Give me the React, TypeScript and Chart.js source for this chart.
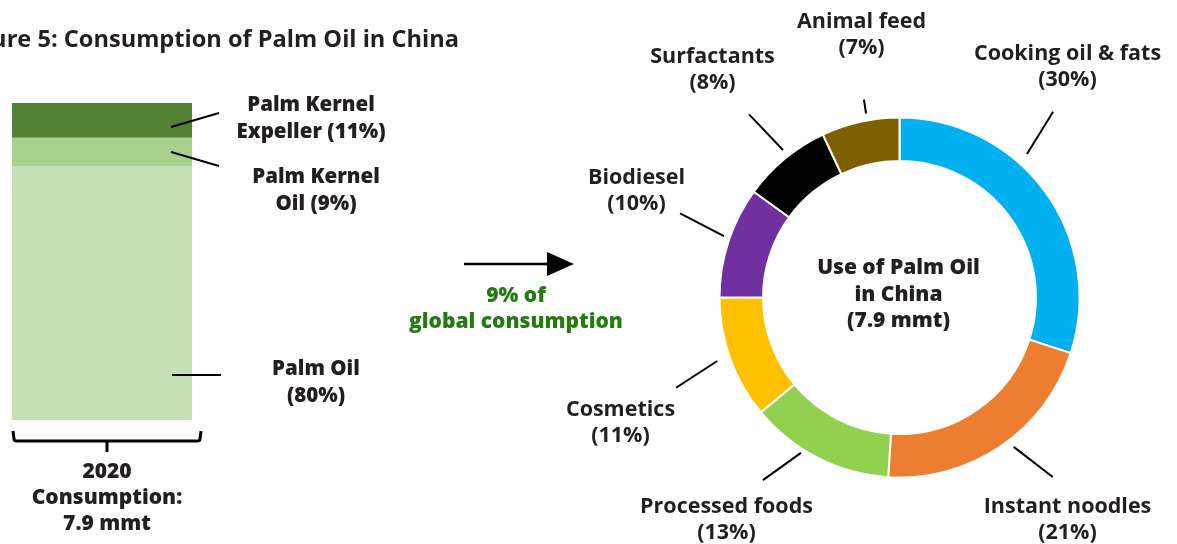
import React, { useEffect, useRef } from "react";
import { Chart, registerables } from "chart.js";
Chart.register(...registerables);

// ---- data ----
const barCategories = ["2020"];
const barSeriesNames = ["Palm Oil", "Palm Kernel Oil", "Palm Kernel Expeller"];
const barSeriesValues = [80, 9, 11];
const barLabelTexts = [["Palm Oil", "(80%)"], ["Palm Kernel", "Oil (9%)"], ["Palm Kernel", "Expeller (11%)"]];

const useCategories = ["Cooking oil & fats", "Instant noodles", "Processed foods", "Cosmetics", "Biodiesel", "Surfactants", "Animal feed"];
const useValues = [30, 21, 13, 11, 10, 8, 7];

const titleText = "Figure 5: Consumption of Palm Oil in China";
const totalText = ["2020", "Consumption:", "7.9 mmt"];
const shareText = ["9% of", "global consumption"];
const centerText = ["Use of Palm Oil", "in China", "(7.9 mmt)"];

// ---- styles ----
const barColors = ["#C5E0B4", "#A9D18E", "#548235"];
const useColors = ["#00B0F0", "#ED7D31", "#92D050", "#FFC000", "#7030A0", "#000000", "#7F6000"];
const TEXT = "#231F20";
const GREEN = "#267A12";
const HEAVY = "800 20.5px 'Open Sans'";
const BOLD = "700 21.5px 'Open Sans'";

// layout for annotations (canvas A local = page coords)
const barLabelPos = [
  { x: 316, y: 369, line: [172, 375, 221, 375] },
  { x: 316, y: 177, line: [171, 152, 219, 166] },
  { x: 311, y: 105, line: [171, 127, 219, 113] },
];
// doughnut label layout: offsets from centre, leader angle (deg from top, clockwise) and radii
const useLabelPos = [
  { dx: 168, dy: -244, a1: 41.6, a2: 39.6, r1: 192, r2: 241 },
  { dx: 168, dy: 209, a1: 142.6, a2: 139.5, r1: 188, r2: 236 },
  { dx: -173, dy: 209, a1: 212.4, a2: 216.8, r1: 184, r2: 228 },
  { dx: -279, dy: 112, a1: 250.8, a2: 248, r1: 193, r2: 241 },
  { dx: -263, dy: -120, a1: 289.3, a2: 291, r1: 186, r2: 235 },
  { dx: -187, dy: -241, a1: 321.7, a2: 320.6, r1: 188, r2: 237 },
  { dx: -38, dy: -276, a1: 349.7, a2: 349.8, r1: 187, r2: 201 },
];

function drawLines(ctx: CanvasRenderingContext2D, lines: string[], x: number, y: number, lh: number, font: string, color: string, align: CanvasTextAlign = "center") {
  ctx.save();
  ctx.font = font;
  ctx.fillStyle = color;
  ctx.textAlign = align;
  ctx.textBaseline = "middle";
  lines.forEach((l, i) => ctx.fillText(l, x, y + i * lh));
  ctx.restore();
}
function seg(ctx: CanvasRenderingContext2D, x1: number, y1: number, x2: number, y2: number, w = 2) {
  ctx.save();
  ctx.strokeStyle = "#000";
  ctx.lineWidth = w;
  ctx.beginPath();
  ctx.moveTo(x1, y1);
  ctx.lineTo(x2, y2);
  ctx.stroke();
  ctx.restore();
}

export default function App() {
  const aRef = useRef<HTMLCanvasElement>(null);
  const bRef = useRef<HTMLCanvasElement>(null);

  useEffect(() => {
    const barPlugin = {
      id: "barAnnot",
      afterDraw(chart: any) {
        const ctx = chart.ctx as CanvasRenderingContext2D;
        drawLines(ctx, [titleText], 459, 40, 0, "700 23.6px 'Open Sans'", TEXT, "right");
        barLabelTexts.forEach((t, i) => {
          const p = barLabelPos[i];
          drawLines(ctx, t, p.x, p.y, 27, HEAVY, TEXT);
          seg(ctx, p.line[0], p.line[1], p.line[2], p.line[3]);
        });
        const el = chart.getDatasetMeta(0).data[0];
        const left = el.x - el.width / 2;
        const right = el.x + el.width / 2;
        const by = chart.chartArea.bottom;
        // bracket
        ctx.save();
        ctx.strokeStyle = "#000";
        ctx.lineWidth = 3;
        ctx.lineJoin = "round";
        ctx.beginPath();
        ctx.moveTo(left + 1, by + 11);
        ctx.lineTo(left + 2, by + 19);
        ctx.quadraticCurveTo(left + 2, by + 21, left + 5, by + 21);
        ctx.lineTo(right + 5, by + 21);
        ctx.quadraticCurveTo(right + 8, by + 21, right + 8, by + 19);
        ctx.lineTo(right + 9, by + 11);
        ctx.stroke();
        ctx.beginPath();
        ctx.moveTo((left + right + 10) / 2, by + 21);
        ctx.lineTo((left + right + 10) / 2, by + 32);
        ctx.stroke();
        ctx.restore();
        drawLines(ctx, totalText, 107, 472, 26, "800 21px 'Open Sans'", TEXT);
        // arrow
        seg(ctx, 464, 264, 550, 264, 2.5);
        ctx.save();
        ctx.fillStyle = "#000";
        ctx.beginPath();
        ctx.moveTo(547, 252);
        ctx.lineTo(574, 264);
        ctx.lineTo(547, 276);
        ctx.closePath();
        ctx.fill();
        ctx.restore();
        drawLines(ctx, shareText, 516, 296, 26, "800 21px 'Open Sans'", GREEN);
      },
    };
    const a = new Chart(aRef.current!, {
      type: "bar",
      data: {
        labels: barCategories,
        datasets: barSeriesNames.map((n, i) => ({
          label: n,
          data: [barSeriesValues[i]],
          backgroundColor: barColors[i],
          borderWidth: 0,
          barPercentage: 1,
          categoryPercentage: 1,
        })),
      },
      options: {
        responsive: false,
        animation: false,
        layout: { padding: { left: 12, right: 640 - 192, top: 103, bottom: 544 - 420 } },
        plugins: { legend: { display: false }, tooltip: { enabled: false } },
        scales: {
          x: { stacked: true, display: false },
          y: { stacked: true, display: false, min: 0, max: 100 },
        },
      },
      plugins: [barPlugin],
    });

    const donutPlugin = {
      id: "donutAnnot",
      afterDraw(chart: any) {
        const ctx = chart.ctx as CanvasRenderingContext2D;
        const arc = chart.getDatasetMeta(0).data[0];
        const cx = arc.x, cy = arc.y;
        drawLines(ctx, centerText, cx - 1, cy - 29, 26.5, "800 21px 'Open Sans'", TEXT);
        useCategories.forEach((c, i) => {
          const p = useLabelPos[i];
          drawLines(ctx, [c, `(${useValues[i]}%)`], cx + p.dx, cy + p.dy, 26, BOLD, TEXT);
          const t1 = (p.a1 * Math.PI) / 180, t2 = (p.a2 * Math.PI) / 180;
          seg(ctx, cx + p.r1 * Math.sin(t1), cy - p.r1 * Math.cos(t1), cx + p.r2 * Math.sin(t2), cy - p.r2 * Math.cos(t2));
        });
      },
    };
    const b = new Chart(bRef.current!, {
      type: "doughnut",
      data: {
        labels: useCategories,
        datasets: [{ data: useValues, backgroundColor: useColors, borderColor: "#fff", borderWidth: 2, hoverBorderWidth: 2 }],
      },
      options: {
        responsive: false,
        animation: false,
        radius: 180,
        cutout: "75.8%",
        layout: { padding: { left: 160, right: 98, top: 120, bottom: 69 } },
        plugins: { legend: { display: false }, tooltip: { enabled: false } },
      } as any,
      plugins: [donutPlugin],
    });
    return () => {
      a.destroy();
      b.destroy();
    };
  }, []);

  return (
    <div style={{ position: "fixed", left: 0, top: 0, width: 1177, height: 544, background: "#fff" }}>
      <canvas ref={aRef} width={640} height={544} style={{ position: "absolute", left: 0, top: 0 }} />
      <canvas ref={bRef} width={617} height={544} style={{ position: "absolute", left: 560, top: 0 }} />
    </div>
  );
}
